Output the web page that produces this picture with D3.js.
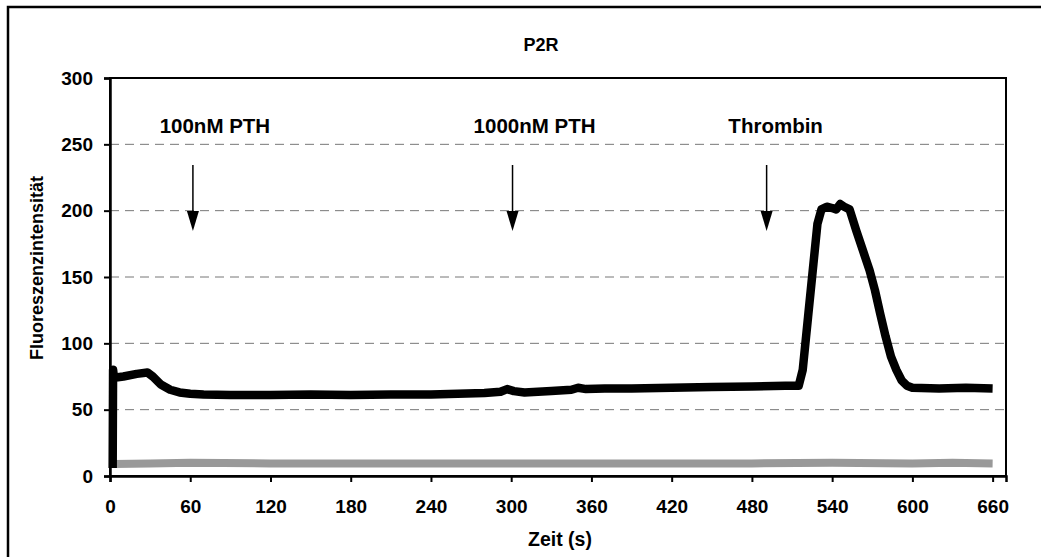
<!DOCTYPE html>
<html>
<head>
<meta charset="utf-8">
<script src="https://cdn.jsdelivr.net/npm/d3@7"></script>
<style>
  body { margin: 0; background: #fff; }
  text { font-family: "Liberation Sans", Arial, sans-serif; font-weight: bold; fill: #000; }
</style>
</head>
<body>
<svg width="1041" height="557"></svg>
<script>
// signal trace (black), time in s
var blackT = [2, 2.3, 3, 10, 20, 28, 32, 38, 45, 52, 60, 70, 90, 120, 150, 180, 210, 240, 260, 280, 292, 297, 302, 310, 330, 345, 350, 356, 370, 390, 420, 450, 480, 505, 515, 518, 522, 526, 529, 532, 536, 540, 543, 546, 549, 553, 558, 563, 568, 572, 576, 580, 584, 588, 592, 596, 600, 620, 640, 660];
var blackV = [6, 80, 74, 75, 77, 78, 75, 69, 65, 63, 62, 61.5, 61, 61, 61.5, 61, 61.5, 61.5, 62, 62.5, 63.5, 65.5, 64, 63, 64, 65, 66.5, 65.5, 66, 66, 66.5, 67, 67.5, 68, 68, 80, 120, 160, 190, 201, 203, 202, 201, 205, 203, 201, 185, 170, 155, 140, 122, 105, 90, 80, 72, 68, 66.5, 66, 66.5, 66];

// control trace (grey)
var greyT = [3, 30, 60, 120, 180, 240, 300, 360, 420, 480, 540, 600, 630, 660];
var greyV = [9, 9.5, 10, 9.5, 9.5, 9.5, 9.5, 9.5, 9.5, 9.5, 10, 9.5, 10, 9.5];

var xTicks = [0, 60, 120, 180, 240, 300, 360, 420, 480, 540, 600, 660];
var yTicks = [0, 50, 100, 150, 200, 250, 300];

var markers = ["100nM PTH", "1000nM PTH", "Thrombin"];
var markerT = [62, 301, 491];

var svg = d3.select("svg");

var x = d3.scaleLinear().domain([0, 670]).range([110, 1006]);
var y = d3.scaleLinear().domain([0, 300]).range([476, 78]);

// outer frame
svg.append("rect")
  .attr("x", 8).attr("y", 7)
  .attr("width", 1100).attr("height", 600)
  .attr("fill", "none").attr("stroke", "#000").attr("stroke-width", 2.5);

// grid
svg.append("g")
  .selectAll("line")
  .data(yTicks.filter(function (d) { return d > 0 && d < 300; }))
  .enter().append("line")
  .attr("x1", x(0)).attr("x2", x(670))
  .attr("y1", function (d) { return y(d); })
  .attr("y2", function (d) { return y(d); })
  .attr("stroke", "#777").attr("stroke-width", 1)
  .attr("stroke-dasharray", "9,6");

// traces
var line = d3.line()
  .x(function (d) { return x(d[0]); })
  .y(function (d) { return y(d[1]); });

svg.append("path")
  .datum(d3.zip(greyT, greyV))
  .attr("d", line)
  .attr("fill", "none").attr("stroke", "#999").attr("stroke-width", 8);

svg.append("path")
  .datum(d3.zip(blackT, blackV))
  .attr("d", line)
  .attr("fill", "none").attr("stroke", "#000").attr("stroke-width", 8.5)
  .attr("stroke-linejoin", "round");

// plot border
svg.append("rect")
  .attr("x", x(0)).attr("y", y(300))
  .attr("width", x(670) - x(0)).attr("height", y(0) - y(300))
  .attr("fill", "none").attr("stroke", "#000").attr("stroke-width", 2);

// axes
var xAxis = svg.append("g")
  .attr("transform", "translate(0," + y(0) + ")")
  .call(d3.axisBottom(x).tickValues(xTicks).tickSize(6).tickPadding(18));
var yAxis = svg.append("g")
  .attr("transform", "translate(" + x(0) + ",0)")
  .call(d3.axisLeft(y).tickValues(yTicks).tickSize(6).tickPadding(11));

[xAxis, yAxis].forEach(function (a) {
  a.select(".domain").attr("stroke-width", 2.5);
  a.selectAll(".tick line").attr("stroke-width", 2);
  a.selectAll("text").attr("font-size", 19).attr("font-family", "Liberation Sans, Arial, sans-serif").attr("font-weight", "bold");
});

// markers
var m = svg.append("g").selectAll("g")
  .data(d3.zip(markers, markerT))
  .enter().append("g");

m.append("text")
  .attr("x", function (d) { return x(d[1]) + (d[0] == "Thrombin" ? 9 : 22); })
  .attr("y", 133)
  .attr("text-anchor", "middle")
  .attr("font-size", 20.5)
  .text(function (d) { return d[0]; });

m.append("line")
  .attr("x1", function (d) { return x(d[1]); })
  .attr("x2", function (d) { return x(d[1]); })
  .attr("y1", 165).attr("y2", 216)
  .attr("stroke", "#000").attr("stroke-width", 1.5);

m.append("path")
  .attr("d", function (d) {
    var cx = x(d[1]);
    return "M" + (cx - 6) + ",211L" + (cx + 6) + ",211L" + cx + ",231Z";
  })
  .attr("fill", "#000");

// titles
svg.append("text")
  .attr("x", 541).attr("y", 51)
  .attr("text-anchor", "middle").attr("font-size", 18)
  .text("P2R");

svg.append("text")
  .attr("x", 560).attr("y", 546)
  .attr("text-anchor", "middle").attr("font-size", 19.5)
  .text("Zeit (s)");

svg.append("text")
  .attr("transform", "translate(43,268) rotate(-90)")
  .attr("text-anchor", "middle").attr("font-size", 18)
  .text("Fluoreszenzintensität");
</script>
</body>
</html>
